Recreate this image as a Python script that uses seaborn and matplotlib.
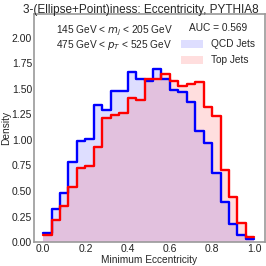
import numpy as np
import pandas as pd
import seaborn as sns
import matplotlib.pyplot as plt
from matplotlib.patches import Patch

# bin edges of the eccentricity histogram (25 bins of 0.04)
edges = np.linspace(0.0, 1.0, 26)
centers = 0.5 * (edges[:-1] + edges[1:])

# density per bin
qcd = [0.085, 0.32, 0.475, 0.78, 0.99, 1.01, 1.34, 1.295, 1.475, 1.475,
       1.665, 1.595, 1.58, 1.69, 1.595, 1.49, 1.47, 1.37, 1.085, 0.97,
       0.68, 0.395, 0.18, 0.07, 0.03]
top = [0.07, 0.22, 0.35, 0.54, 0.72, 0.745, 0.93, 1.21, 1.24, 1.26,
       1.41, 1.385, 1.595, 1.595, 1.645, 1.58, 1.53, 1.545, 1.57, 1.32,
       1.23, 0.705, 0.445, 0.19, 0.05]

labels = ["QCD Jets", "Top Jets"]
auc = 0.569
mass_cut = (145, 205)
pt_cut = (475, 525)

sns.set_style("white")
plt.rcParams['font.family'] = ['Liberation Sans', 'DejaVu Sans']
plt.rcParams['mathtext.fontset'] = 'dejavusans'

fig = plt.figure(figsize=(2.66, 2.66), dpi=100)
ax = fig.add_axes([0.128, 0.09, 0.868, 0.859])

df = pd.DataFrame({"x": np.concatenate([centers, centers]),
                   "w": np.concatenate([qcd, top]),
                   "sample": [labels[0]] * len(centers) + [labels[1]] * len(centers)})

colors = {"QCD Jets": "blue", "Top Jets": "red"}
for name in labels:
    sub = df[df["sample"] == name]
    # light filled area
    sns.histplot(data=sub, x="x", weights="w", binwidth=0.04, binrange=(0, 1),
                 element="step", fill=True, stat="count", color=colors[name],
                 alpha=0.13, linewidth=0, ax=ax)
for name in labels:
    sub = df[df["sample"] == name]
    sns.histplot(data=sub, x="x", weights="w", binwidth=0.04, binrange=(0, 1),
                 element="step", fill=False, stat="count", color=colors[name],
                 linewidth=1.7, ax=ax)

ax.set_xlim(-0.043, 1.05)
ax.set_ylim(0, 2.235)
ax.set_yticks(np.arange(0, 2.01, 0.25))
ax.set_xticks(np.arange(0, 1.01, 0.2))
ax.set_xlabel("Minimum Eccentricity", fontsize=7.3, labelpad=0.5)
ax.set_ylabel("Density", fontsize=7.3, labelpad=0.5)
ax.tick_params(axis="both", labelsize=7.5, length=0, pad=1.5, colors="#222222")
for s in ax.spines.values():
    s.set_color("#9a9a9a")
    s.set_linewidth(1.2)

ax.text(0.348, 0.958,
        "{} GeV < $m_j$ < {} GeV\n{} GeV < $p_T$ < {} GeV".format(*mass_cut, *pt_cut),
        transform=ax.transAxes, ha="center", va="top", fontsize=7.3,
        linespacing=1.05)

handles = [Patch(facecolor=colors[n], alpha=0.13, edgecolor="none") for n in labels]
leg = ax.legend(handles, labels, title="AUC = {:.3f}".format(auc), loc="upper right",
                frameon=False, fontsize=7.3, title_fontsize=7.3,
                handlelength=2.2, handleheight=0.9, borderaxespad=0.55,
                labelspacing=0.6)

fig.text(0.528, 0.953, "3-(Ellipse+Point)iness: Eccentricity, PYTHIA8",
         ha="center", va="baseline", fontsize=8.5)

fig.savefig("out.png", dpi=100)
